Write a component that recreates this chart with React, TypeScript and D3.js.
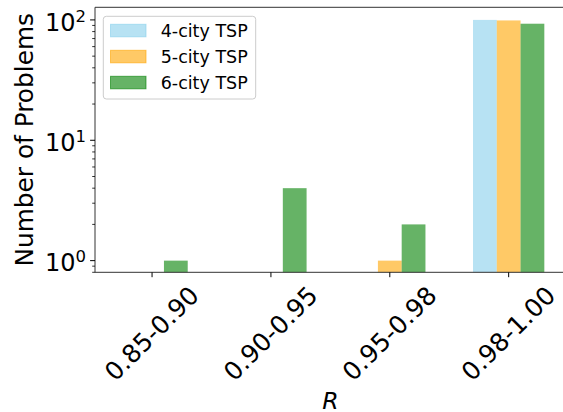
import React from "react";
import * as d3 from "d3";

const categories = ["0.85-0.90", "0.90-0.95", "0.95-0.98", "0.98-1.00"];
const seriesNames = ["4-city TSP", "5-city TSP", "6-city TSP"];
const city4 = [0, 0, 0, 100];
const city5 = [0, 0, 1, 99];
const city6 = [1, 4, 2, 93];
const yTickValues = [1, 10, 100];
const yTickExponents = ["0", "1", "2"];

const seriesValues = [city4, city5, city6];
const colors = ["#87CEEB", "#FFA500", "#008000"];
const offsets = [-0.2, 0, 0.2];
const barW = 0.2;

const W = 563;
const H = 412;
const left = 95;
const top = 7.3;
const bottom = 272.3;

const font = "'DejaVu Sans', sans-serif";

export default function App() {
  const x = d3.scaleLinear().domain([-0.48, 3.48]).range([left, left + 3.96 * 118.87]);
  const y = d3.scaleLog().domain([0.8, 127.3]).range([bottom, top]);
  const right = x(3.48);

  const minor: number[] = [];
  for (const base of [0.1, 1, 10, 100]) {
    for (let k = 2; k <= 9; k++) {
      const v = base * k;
      if (v >= 0.8 && v <= 127.3 && !yTickValues.includes(v)) minor.push(v);
    }
  }

  return (
    <svg width={W} height={H} style={{ position: "absolute", left: 0, top: 0 }}>
      <rect x={0} y={0} width={W} height={H} fill="#fff" />
      {/* bars */}
      {seriesValues.map((vals, si) =>
        vals.map((v, ci) =>
          v > 0 ? (
            <rect
              key={`${si}-${ci}`}
              x={x(ci + offsets[si] - barW / 2)}
              y={y(v)}
              width={x(barW) - x(0)}
              height={bottom - y(v)}
              fill={colors[si]}
              fillOpacity={0.6}
            />
          ) : null
        )
      )}
      {/* spines */}
      <line x1={left} x2={left} y1={top} y2={bottom} stroke="#333" strokeWidth={1} />
      <line x1={left} x2={right} y1={bottom} y2={bottom} stroke="#333" strokeWidth={1} />
      <line x1={left} x2={right} y1={top} y2={top} stroke="#333" strokeWidth={1} />
      <line x1={right} x2={right} y1={top} y2={bottom} stroke="#333" strokeWidth={1} />
      {/* y ticks */}
      {yTickValues.map((v, i) => (
        <g key={`yt${i}`}>
          <line x1={left - 4.9} x2={left} y1={y(v)} y2={y(v)} stroke="#000" strokeWidth={1} />
          <text x={86} y={y(v) + 10.7} textAnchor="end" fontFamily={font} fontSize={24} fill="#000">
            10
            <tspan fontSize={16.5} dy={-9}>
              {yTickExponents[i]}
            </tspan>
          </text>
        </g>
      ))}
      {minor.map((v, i) => (
        <line key={`ym${i}`} x1={left - 2.8} x2={left} y1={y(v)} y2={y(v)} stroke="#000" strokeWidth={0.8} />
      ))}
      {/* x ticks */}
      {categories.map((c, i) => (
        <g key={`xt${i}`}>
          <line x1={x(i)} x2={x(i)} y1={bottom} y2={bottom + 4.9} stroke="#000" strokeWidth={1} />
          <g transform={`translate(${x(i) - 0.5},333.3) rotate(-45)`}>
            <text x={0} y={0} dy="0.36em" textAnchor="middle" fontFamily={font} fontSize={25} fill="#000">
              {c}
            </text>
          </g>
        </g>
      ))}
      {/* axis labels */}
      <text
        transform={`translate(33,${(top + bottom) / 2}) rotate(-90)`}
        textAnchor="middle"
        fontFamily={font}
        fontSize={24.8}
        fill="#000"
      >
        Number of Problems
      </text>
      <text
        x={(left + right) / 2}
        y={408.5}
        textAnchor="middle"
        fontFamily={font}
        fontStyle="italic"
        fontSize={23.5}
        fill="#000"
      >
        R
      </text>
      {/* legend */}
      <rect x={103.3} y={16.3} width={152.4} height={82.7} rx={3} fill="#fff" fillOpacity={0.8} stroke="#cccccc" strokeWidth={1} />
      {seriesNames.map((n, i) => (
        <g key={`lg${i}`}>
          <rect
            x={110.5}
            y={24.3 + i * 26}
            width={35.5}
            height={12.5}
            fill={colors[i]}
            fillOpacity={0.6}
            stroke={colors[i]}
            strokeOpacity={0.6}
            strokeWidth={1}
          />
          <text x={160.7} y={37.1 + i * 26} fontFamily={font} fontSize={17.5} fill="#000">
            {n}
          </text>
        </g>
      ))}
    </svg>
  );
}
